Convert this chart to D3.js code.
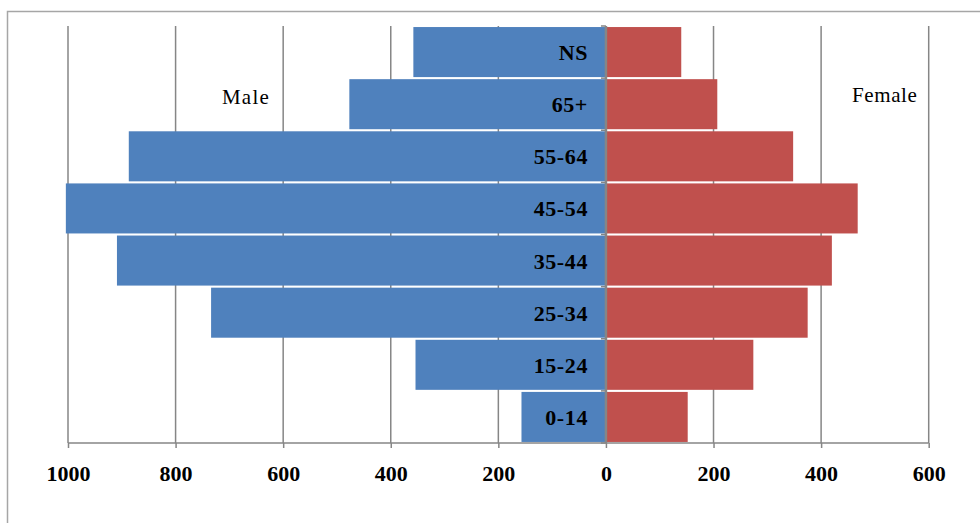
<!DOCTYPE html>
<html><head><meta charset="utf-8">
<script src="https://cdn.jsdelivr.net/npm/d3@7"></script>
<style>body{margin:0;background:#fff}svg{display:block}</style>
</head><body>
<svg id="c" width="980" height="523"></svg>
<script>
const categories = ["NS","65+","55-64","45-54","35-44","25-34","15-24","0-14"];
const male = [358, 477, 887, 1004, 909, 734, 354, 157];
const female = [140, 207, 348, 468, 420, 375, 274, 152];
const tickValues = [-1000,-800,-600,-400,-200,0,200,400,600];

const svg = d3.select("#c");
const font = "'Liberation Serif','Times New Roman',serif";
// outer border
svg.append("path").attr("d","M7.5,530 V11.5 H990").attr("fill","none").attr("stroke","#a6a6a6").attr("stroke-width",1.5);

const x = d3.scaleLinear().domain([-1000,600]).range([68,928.7]);
const y = d3.scaleBand().domain(categories).range([26,443]).paddingInner(0.04).paddingOuter(0.02);

// gridlines
svg.append("g").selectAll("line").data(tickValues.filter(d=>d!==0)).join("line")
  .attr("x1",d=>x(d)).attr("x2",d=>x(d)).attr("y1",26).attr("y2",443)
  .attr("stroke","#868686").attr("stroke-width",1.5);

// bars
svg.append("g").selectAll("rect").data(categories).join("rect")
  .attr("x",(d,i)=>x(-male[i])).attr("width",(d,i)=>x(0)-x(-male[i]))
  .attr("y",d=>y(d)).attr("height",y.bandwidth()).attr("fill","#4F81BD");
svg.append("g").selectAll("rect").data(categories).join("rect")
  .attr("x",x(0)).attr("width",(d,i)=>x(female[i])-x(0))
  .attr("y",d=>y(d)).attr("height",y.bandwidth()).attr("fill","#C0504D");

// bottom axis
const xAxis = d3.axisBottom(x).tickValues(tickValues).tickSize(5).tickFormat(d=>Math.abs(d));
const gx = svg.append("g").attr("transform","translate(0,443)").call(xAxis);
gx.select(".domain").attr("stroke","#868686").attr("stroke-width",1.5).attr("d",`M${x(-1000)},0H${x(600)}`);
gx.selectAll(".tick line").attr("stroke","#868686").attr("stroke-width",1.5);
gx.selectAll(".tick text").attr("font-family",font).attr("font-weight","bold").attr("font-size",22)
  .attr("fill","#000").attr("y",null).attr("dy",null).attr("transform","translate(0,37.5)");

// center axis
const b = [26].concat(categories.map(c=>y(c)+y.bandwidth()+y.step()*y.paddingInner()/2));
svg.append("line").attr("x1",x(0)).attr("x2",x(0)).attr("y1",26).attr("y2",443).attr("stroke","#868686").attr("stroke-width",2.5);
svg.append("g").selectAll("line").data(b).join("line")
  .attr("x1",x(0)-5).attr("x2",x(0)).attr("y1",d=>d).attr("y2",d=>d).attr("stroke","#868686").attr("stroke-width",1.5);

// category labels
svg.append("g").selectAll("text").data(categories).join("text")
  .attr("x",588).attr("y",d=>y(d)+y.bandwidth()/2+8).attr("text-anchor","end")
  .attr("font-family",font).attr("font-weight","bold").attr("font-size",22).attr("letter-spacing",0.6).text(d=>d);

svg.append("text").attr("x",222).attr("y",104).attr("font-family",font).attr("font-size",21).attr("letter-spacing",1.2).text("Male");
svg.append("text").attr("x",852).attr("y",102).attr("font-family",font).attr("font-size",21).attr("letter-spacing",0.6).text("Female");
</script>
</body></html>
